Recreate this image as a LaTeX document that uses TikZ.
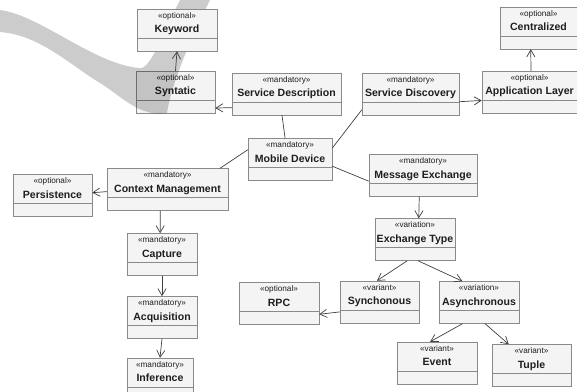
\documentclass[tikz,border=0pt]{standalone}
\usepackage{fontspec}
\setmainfont{Liberation Sans}
\usetikzlibrary{arrows.meta}

\definecolor{boxfill}{RGB}{244,244,244}
\definecolor{boxline}{RGB}{138,138,138}
\definecolor{linkgray}{RGB}{64,64,64}
\definecolor{textgray}{RGB}{30,30,30}

\newcommand{\stereo}[1]{{\fontsize{7}{7}\selectfont «#1»}}
\newcommand{\fname}[1]{\textbf{#1}}

\tikzset{
  box/.style={draw=boxline, fill=boxfill, minimum width=#1*0.03cm,
    minimum height=1.26cm, inner sep=0pt, align=center, text=textgray,
    font=\fontsize{9}{12}\selectfont, text height=6pt, text depth=1.73pt,
    path picture={\draw[boxline] ([yshift=0.39cm]path picture bounding box.south west)
      -- ([yshift=0.39cm]path picture bounding box.south east);}},
  link/.style={draw=linkgray, line width=0.6pt},
  dep/.style={link, -{Straight Barb[length=6pt, width=7pt]}},
  band/.style={fill=black, fill opacity=0.2}
}

\begin{document}
\begin{tikzpicture}[x=0.03cm, y=-0.03cm]
\useasboundingbox (0,0) rectangle (577,392);
%%%  nodes

% service side
\node [box=79] (syntatic) at (175.5,92) {\stereo{optional}\\\fname{Syntatic}};
\node [box=109] (servdesc) at (286.5,94) {\stereo{mandatory}\\\fname{Service Description}};
\node [box=97] (servdisc) at (410.5,94) {\stereo{mandatory}\\\fname{Service Discovery}};
\node [box=95] (applayer) at (529.5,92) {\stereo{optional}\\\fname{Application Layer}};
\node [box=77] (central) at (538.5,28) {\stereo{optional}\\\fname{Centralized}};

% root
\node [box=84] (mobile) at (290,159.5) {\stereo{mandatory}\\\fname{Mobile Device}};

% context nodes
\node [box=121] (context) at (167.5,189.5) {\stereo{mandatory}\\\fname{Context Management}};
\node [box=79] (persist) at (52.5,195.5) {\stereo{optional}\\\fname{Persistence}};
\node [box=70] (capture) at (162,254.5) {\stereo{mandatory}\\\fname{Capture}};
\node [box=70] (acquis) at (162,317.5) {\stereo{mandatory}\\\fname{Acquisition}};
\node [box=66] (infer) at (160,379) {\stereo{mandatory}\\\fname{Inference}};

% message nodes
\node [box=108] (msgex) at (423,175.5) {\stereo{mandatory}\\\fname{Message Exchange}};
\node [box=80] (exchtype) at (415,239.5) {\stereo{variation}\\\fname{Exchange Type}};
\node [box=79] (sync) at (379.5,302) {\stereo{variant}\\\fname{Synchonous}};
\node [box=80] (async) at (479,302.5) {\stereo{variation}\\\fname{Asynchronous}};
\node [box=80] (rpc) at (279,303.5) {\stereo{optional}\\\fname{RPC}};
\node [box=80] (event) at (437,363) {\stereo{variant}\\\fname{Event}};
\node [box=79] (tuple) at (531.5,365.5) {\stereo{variant}\\\fname{Tuple}};

% watermark swoosh (behind keyword)
\fill [band] (0,10) .. controls (40,15) and (95,65) .. (140,68)
  .. controls (150,70) and (165,30) .. (180,0) -- (210,0)
  .. controls (195,30) and (172,80) .. (167,113)
  .. controls (140,118) and (120,95) .. (100,83)
  .. controls (70,65) and (40,35) .. (0,32) -- cycle;

\node [box=80] (keyword) at (177,30) {\stereo{optional}\\\fname{Keyword}};

%%% edges

% root links
\draw [link] (mobile.103) -- (servdesc.258);
\draw [link] (mobile.167) -- (context.22);
\draw [link] (mobile.15) -- (servdisc.198);
\draw [link] (mobile.-9) -- (msgex.186);

% service
\draw [dep] (syntatic.north) -- (keyword.south);
\draw [dep] (servdesc.194) -- (syntatic.-22);
\draw [dep] (servdisc.-9) -- (applayer.190);
\draw [dep] (applayer.86) -- (central.250);

% context
\draw [dep] (context.182) -- (persist.4);
\draw [dep] (context.251) -- (capture.95);
\draw [dep] (capture.south) -- (acquis.north);
\draw [dep] (acquis.south) -- (infer.north);

% message
\draw [dep] (msgex.260) -- (exchtype.80);
\draw [dep] (exchtype.250) -- (sync.97);
\draw [dep] (exchtype.278) -- (async.128);
\draw [dep] (sync.194) -- (rpc.-15);
\draw [dep] (async.232) -- (event.108);
\draw [dep] (async.286) -- (tuple.137);
\end{tikzpicture}
\end{document}
